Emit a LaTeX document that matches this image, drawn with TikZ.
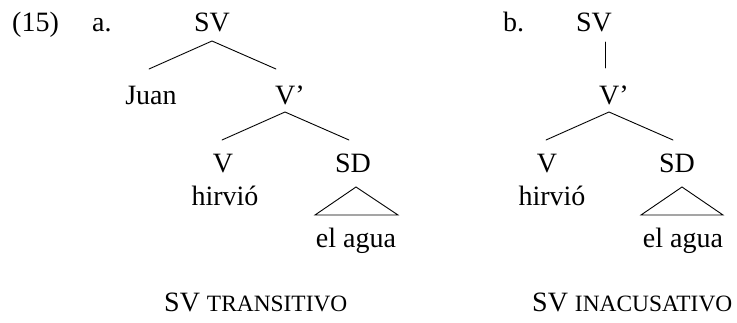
\documentclass[tikz,border=0pt]{standalone}
\usepackage{fontspec}
\setmainfont{Liberation Serif}
\newcommand\fakesc[1]{{\fontsize{23.4}{26}\selectfont #1}}
\tikzset{
  lbl/.style={anchor=base, inner sep=0pt, font=\fontsize{28}{32}\selectfont},
  lblw/.style={lbl, anchor=base west},
  branch/.style={line width=0.9pt, line cap=round},
}
\begin{document}
\begin{tikzpicture}[x=1pt, y=-1pt]
\useasboundingbox (0,0) rectangle (737,322);
% ---- labels row 1
\node[lblw] (num) at (12,31) {(15)};
\node[lblw] (la) at (92,31) {a.};
\node[lbl] (SVa) at (212,31) {SV};
\node[lblw] (lb) at (503,31) {b.};
\node[lbl] (SVb) at (594,31) {SV};
% ---- tree a
\node[lbl] (Juan) at (151,104) {Juan};
\node[lblw] (Vba) at (275,104) {V’};
\node[lbl] (Va) at (223,172) {V};
\node[lbl] (hva) at (225,205) {hirvió};
\node[lbl] (SDa) at (353,172) {SD};
\node[lbl] (aga) at (356,247) {el agua};
\coordinate (a1) at (212,41);
\coordinate (a1l) at (149,69);
\coordinate (a1r) at (276,69);
\coordinate (a2) at (285,112);
\coordinate (a2l) at (222,140);
\coordinate (a2r) at (349,140);
\coordinate (ta) at (356,187);
\coordinate (tal) at (315,215);
\coordinate (tar) at (398,215);
\draw[branch] (a1l) -- (a1) -- (a1r);
\draw[branch] (a2l) -- (a2) -- (a2r);
\draw[branch] (ta) -- (tal) -- (tar) -- cycle;
% ---- tree b
\node[lblw] (Vbb) at (599,104) {V’};
\node[lbl] (Vb) at (547,172) {V};
\node[lbl] (hvb) at (552,205) {hirvió};
\node[lbl] (SDb) at (677,172) {SD};
\node[lbl] (agb) at (683,247) {el agua};
\coordinate (b1) at (605,42);
\coordinate (b1d) at (605,68);
\coordinate (b2) at (609,112);
\coordinate (b2l) at (546,140);
\coordinate (b2r) at (673,140);
\coordinate (tb) at (682,187);
\coordinate (tbl) at (641,215);
\coordinate (tbr) at (723,215);
\draw[branch] (b1) -- (b1d);
\draw[branch] (b2l) -- (b2) -- (b2r);
\draw[branch] (tb) -- (tbl) -- (tbr) -- cycle;
% ---- captions
\node[lblw] (capa) at (164,311) {SV \fakesc{TRANSITIVO}};
\node[lblw] (capb) at (532,311) {SV \fakesc{INACUSATIVO}};
\end{tikzpicture}
\end{document}
